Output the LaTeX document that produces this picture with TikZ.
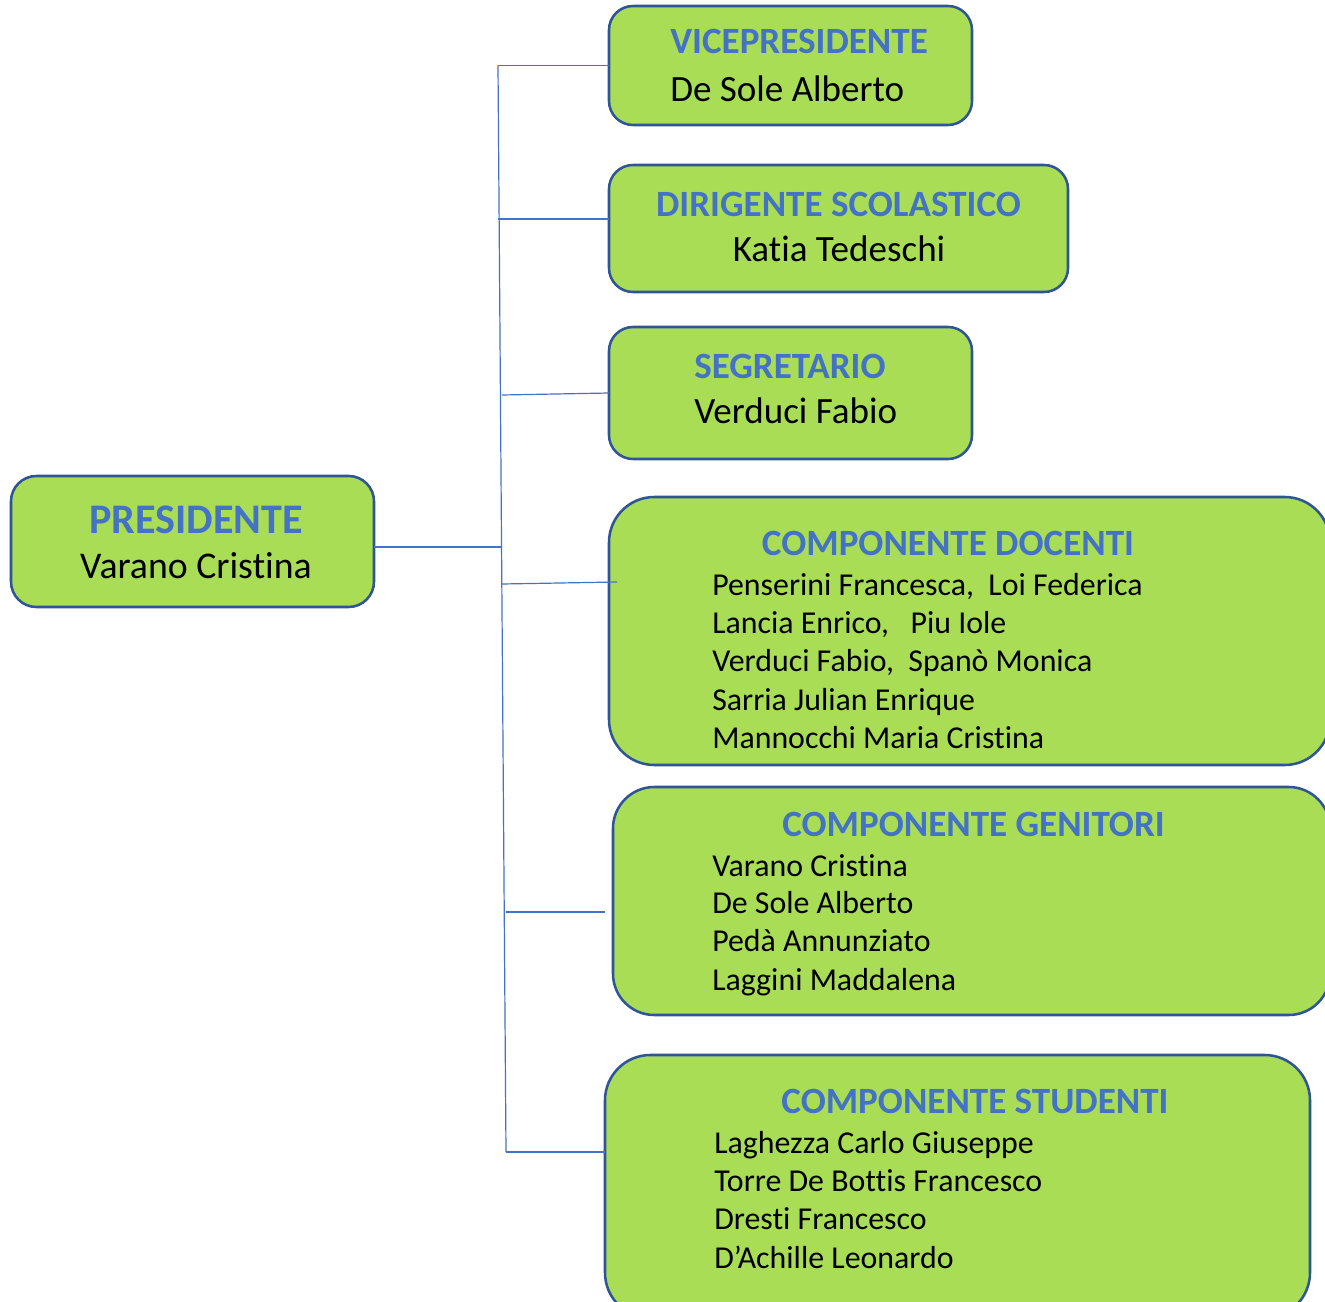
\documentclass[tikz,border=0pt]{standalone}
\usepackage{fontspec}
\setmainfont[Ligatures={NoCommon}]{Carlito}
\definecolor{boxfill}{HTML}{A9DD55}
\definecolor{boxline}{HTML}{2F5597}
\definecolor{ttl}{HTML}{4472C4}
\definecolor{conn}{HTML}{4472C4}
\tikzset{
  box/.style={draw=boxline, line width=1.9pt, fill=boxfill, inner sep=0pt, outer sep=0pt},
  ttlsmall/.style={inner sep=0pt, text=ttl, font=\fontsize{27.8}{32}\selectfont\bfseries},
  ttlbig/.style={inner sep=0pt, text=ttl, font=\fontsize{27.8}{32}\selectfont\bfseries},
  ttlpres/.style={inner sep=0pt, text=ttl, font=\fontsize{31.6}{36}\selectfont\bfseries},
  namesmall/.style={inner sep=0pt, text=black, font=\fontsize{27.8}{32}\selectfont},
  namepres/.style={inner sep=0pt, text=black, font=\fontsize{28.3}{32}\selectfont},
  line/.style={inner sep=0pt, text=black, font=\fontsize{23.9}{28}\selectfont},
  connector/.style={draw=conn, line width=0.9pt}
}
\begin{document}
\begin{tikzpicture}[x=0.75pt,y=-0.75pt]
\clip (0,0) rectangle (1325,1302);
\fill[white] (0,0) rectangle (1325,1302);

% boxes
\node[box, rounded corners=19pt, minimum width=272.25pt, minimum height=98.25pt] (pres) at (192.5,541.5) {};
\node[box, rounded corners=18pt, minimum width=272.25pt, minimum height=89.25pt] (vice) at (790.5,65.5) {};
\node[box, rounded corners=18pt, minimum width=344.25pt, minimum height=95.25pt] (dir) at (838.5,228.5) {};
\node[box, rounded corners=18pt, minimum width=272.25pt, minimum height=99pt] (seg) at (790.5,393) {};
\node[box, rounded corners=34pt, minimum width=540.75pt, minimum height=201pt] (doc) at (969.5,631) {};
\node[box, rounded corners=31pt, minimum width=537.75pt, minimum height=171pt] (gen) at (971.5,901) {};
\node[box, rounded corners=34pt, minimum width=528.75pt, minimum height=197.25pt] (stu) at (957.5,1186.5) {};

% texts
\node[ttlpres, anchor=base] (presT) at (196,533.3) {PRESIDENTE};
\node[namepres, anchor=base] (presN) at (196,578.3) {Varano Cristina};

\node[ttlsmall, anchor=base west] (viceT) at (670,53.3) {VICEPRESIDENTE};
\node[namesmall, anchor=base west] (viceN) at (670,101.7) {De Sole Alberto};

\node[ttlsmall, anchor=base] (dirT) at (838.5,216.7) {DIRIGENTE SCOLASTICO};
\node[namesmall, anchor=base] (dirN) at (839,261.7) {Katia Tedeschi};

\node[ttlsmall, anchor=base west] (segT) at (694,378.3) {SEGRETARIO};
\node[namesmall, anchor=base west] (segN) at (694,423.3) {Verduci Fabio};

\node[ttlbig, anchor=base] (docT) at (948,555) {COMPONENTE DOCENTI};
\node[line, anchor=base west] (doc1) at (712,595) {Penserini Francesca,\ \ Loi Federica};
\node[line, anchor=base west] (doc2) at (712,633.3) {Lancia Enrico,\ \ \ Piu Iole};
\node[line, anchor=base west] (doc3) at (712,671.7) {Verduci Fabio,\ \ Spanò Monica};
\node[line, anchor=base west] (doc4) at (712,710) {Sarria Julian Enrique};
\node[line, anchor=base west] (doc5) at (712,748.3) {Mannocchi Maria Cristina};

\node[ttlbig, anchor=base] (genT) at (973.5,836) {COMPONENTE GENITORI};
\node[line, anchor=base west] (gen1) at (712,876) {Varano Cristina};
\node[line, anchor=base west] (gen2) at (712,913.3) {De Sole Alberto};
\node[line, anchor=base west] (gen3) at (712,951.7) {Pedà Annunziato};
\node[line, anchor=base west] (gen4) at (712,990) {Laggini Maddalena};

\node[ttlbig, anchor=base] (stuT) at (975,1113) {COMPONENTE STUDENTI};
\node[line, anchor=base west] (stu1) at (714,1153) {Laghezza Carlo Giuseppe};
\node[line, anchor=base west] (stu2) at (714,1191.7) {Torre De Bottis Francesco};
\node[line, anchor=base west] (stu3) at (714,1229.3) {Dresti Francesco};
\node[line, anchor=base west] (stu4) at (714,1268.3) {D’Achille Leonardo};

% connectors
\coordinate (t1) at (498,65.5);
\coordinate (t2) at (498,219);
\coordinate (t3) at (502,395);
\coordinate (tp) at (501,547);
\coordinate (t4) at (502,584);
\coordinate (d4) at (617,582);
\coordinate (t5) at (506,912);
\coordinate (e5) at (605,912);
\coordinate (t6) at (506,1152);

\draw[connector] (t1) -- (t6);
\draw[connector] (t1) -- (vice.west);
\draw[connector] (t2) -- (t2 -| dir.west);
\draw[connector] (t3) -- (seg.west);
\draw[connector] (pres.east |- tp) -- (tp);
\draw[connector] (t4) -- (d4);
\draw[connector] (t5) -- (e5);
\draw[connector] (t6) -- (t6 -| stu.west);
\end{tikzpicture}
\end{document}
